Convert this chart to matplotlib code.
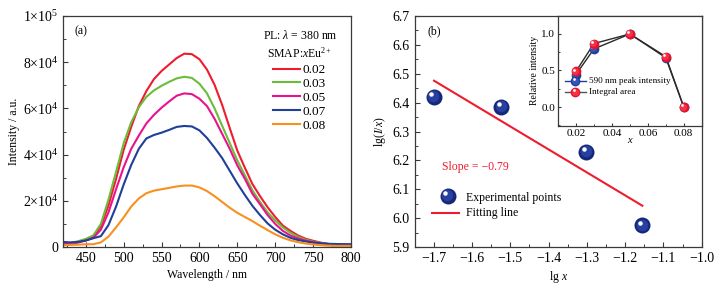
import numpy as np
import matplotlib
matplotlib.use("Agg")
import matplotlib.pyplot as plt
from matplotlib.ticker import MultipleLocator, FixedLocator
import matplotlib.transforms as mtransforms

plt.rcParams['font.family'] = ['Liberation Serif', 'DejaVu Serif']
plt.rcParams['mathtext.fontset'] = 'custom'
plt.rcParams['mathtext.rm'] = 'Liberation Serif'
plt.rcParams['mathtext.it'] = 'Liberation Serif:italic'
plt.rcParams['font.size'] = 8.5

# ---------------- data: panel (a) ----------------
wavelength = [420, 430, 440, 450, 460, 470, 480, 490, 500, 510, 520, 530, 540, 550,
              560, 570, 580, 590, 600, 610, 620, 630, 640, 650, 660, 670, 680, 690,
              700, 710, 720, 730, 740, 750, 760, 770, 780, 790, 800]
# intensities in units of 1e4
I_002 = [0.13, 0.15, 0.20, 0.30, 0.45, 0.90, 1.80, 2.95, 4.20, 5.20, 6.10, 6.75, 7.27, 7.62,
         7.90, 8.18, 8.37, 8.35, 8.13, 7.68, 7.02, 6.15, 5.15, 4.17, 3.43, 2.72, 2.20, 1.72,
         1.30, 0.93, 0.70, 0.50, 0.36, 0.27, 0.19, 0.13, 0.11, 0.10, 0.09]
I_003 = [0.15, 0.18, 0.25, 0.35, 0.50, 1.00, 2.05, 3.25, 4.49, 5.40, 6.05, 6.50, 6.78, 6.98,
         7.15, 7.30, 7.37, 7.32, 7.07, 6.65, 6.00, 5.25, 4.50, 3.75, 3.10, 2.45, 1.95, 1.50,
         1.15, 0.85, 0.62, 0.44, 0.32, 0.23, 0.17, 0.13, 0.11, 0.10, 0.09]
I_005 = [0.12, 0.14, 0.20, 0.28, 0.40, 0.75, 1.50, 2.50, 3.45, 4.25, 4.82, 5.35, 5.72, 6.03,
         6.30, 6.55, 6.65, 6.62, 6.42, 6.10, 5.55, 4.90, 4.25, 3.53, 2.95, 2.30, 1.85, 1.38,
         1.00, 0.70, 0.50, 0.37, 0.28, 0.21, 0.16, 0.13, 0.11, 0.10, 0.10]
I_007 = [0.22, 0.20, 0.22, 0.28, 0.38, 0.47, 0.95, 1.75, 2.70, 3.55, 4.25, 4.70, 4.85, 4.95,
         5.07, 5.20, 5.24, 5.22, 5.05, 4.72, 4.30, 3.85, 3.30, 2.75, 2.25, 1.78, 1.38, 1.02,
         0.75, 0.55, 0.40, 0.30, 0.24, 0.19, 0.16, 0.14, 0.13, 0.12, 0.12]
I_008 = [0.08, 0.09, 0.10, 0.12, 0.12, 0.20, 0.45, 0.85, 1.28, 1.75, 2.10, 2.33, 2.44, 2.50,
         2.56, 2.62, 2.66, 2.66, 2.58, 2.42, 2.20, 1.95, 1.70, 1.48, 1.30, 1.12, 0.92, 0.73,
         0.55, 0.40, 0.29, 0.21, 0.15, 0.11, 0.08, 0.06, 0.05, 0.05, 0.05]
conc_labels = ['0.02', '0.03', '0.05', '0.07', '0.08']
spec_colors = ['#ee1c2e', '#6abd3a', '#ea128c', '#1f3f99', '#f7901e']
a_yticks = [0, 2e4, 4e4, 6e4, 8e4, 1e5]
a_yticklabels = ['0', '2×10$^4$', '4×10$^4$', '6×10$^4$', '8×10$^4$', '1×10$^5$']

# ---------------- data: panel (b) ----------------
lgx = [-1.699, -1.523, -1.301, -1.155]
lg_Ix = [6.421, 6.386, 6.229, 5.975]
fit_x = [-1.699, -1.155]
fit_y = [6.476, 6.043]

inset_x = [0.02, 0.03, 0.05, 0.07, 0.08]
peak_rel = [0.445, 0.795, 1.0, 0.675, 0.0]
area_rel = [0.487, 0.869, 1.0, 0.69, 0.0]

fig = plt.figure(figsize=(7.2, 2.92), dpi=100)

spine_col = '#3a3a3a'
TICK_FS = 10

def style_axes(ax, fs=TICK_FS):
    for s in ax.spines.values():
        s.set_color(spine_col)
        s.set_linewidth(0.9)
    ax.tick_params(which='both', direction='in', color=spine_col, top=False, right=False)
    ax.tick_params(which='major', length=3.5, width=0.8, labelsize=fs)
    ax.tick_params(which='minor', length=2, width=0.7)

# ---------------- panel (a) ----------------
axa = fig.add_axes([0.0875, 0.1541, 0.4, 0.791])
series = [I_002, I_003, I_005, I_007, I_008]
handles = []
for vals, lab, col in zip(series, conc_labels, spec_colors):
    h, = axa.plot(wavelength, np.array(vals) * 1e4, color=col, lw=1.5, label=lab)
    handles.append(h)
axa.set_xlim(420, 800)
axa.set_ylim(0, 1e5)
axa.xaxis.set_major_locator(MultipleLocator(50))
axa.xaxis.set_minor_locator(MultipleLocator(25))
axa.yaxis.set_major_locator(FixedLocator(a_yticks))
axa.set_yticklabels(a_yticklabels)
axa.yaxis.set_minor_locator(MultipleLocator(1e4))
style_axes(axa)
axa.set_xlabel('Wavelength / nm', labelpad=3)
axa.set_ylabel('Intensity / a.u.', labelpad=2)
axa.text(0.04, 0.935, '(a)', transform=axa.transAxes, ha='left', va='center')
axa.text(0.955, 0.915, 'PL: $\\it{λ}$ = 380 nm', transform=axa.transAxes, ha='right', va='center')
axa.text(0.935, 0.84, 'SMAP:$\\it{x}$Eu$^{2+}$', transform=axa.transAxes, ha='right', va='center')
leg = axa.legend(handles=handles, loc='upper right', bbox_to_anchor=(0.93, 0.815),
                 frameon=False, handlelength=2.0, handletextpad=0.2, labelspacing=0.12,
                 borderaxespad=0.0, fontsize=9.5)

# ---------------- panel (b) ----------------
axb = fig.add_axes([0.5757, 0.1541, 0.3989, 0.791])

def sphere(ax, xs, ys, base, light, size, zorder=3, label=None):
    ax.plot(xs, ys, ls='none', marker='o', ms=size, mfc=base, mec=base, mew=0.0,
            zorder=zorder, label=label)
    ax.plot(xs, ys, ls='none', marker='o', ms=size * 0.72, mfc=light, mec='none',
            alpha=0.55, zorder=zorder + 0.1,
            transform=ax.transData + mtransforms.ScaledTranslation(-size * 0.05 / 72, size * 0.05 / 72,
                                                                   fig.dpi_scale_trans))
    ax.plot(xs, ys, ls='none', marker='o', ms=size * 0.28, mfc='white', mec='none',
            zorder=zorder + 0.2,
            transform=ax.transData + mtransforms.ScaledTranslation(-size * 0.16 / 72, size * 0.17 / 72,
                                                                   fig.dpi_scale_trans))

sphere(axb, lgx, lg_Ix, '#14277a', '#3a58c0', 11.5)
axb.plot(fit_x, fit_y, color='#ee1c2e', lw=1.5, zorder=2)
axb.set_xlim(-1.75, -1.0)
axb.set_ylim(5.9, 6.7)
axb.xaxis.set_major_locator(MultipleLocator(0.1))
axb.xaxis.set_minor_locator(MultipleLocator(0.05))
axb.yaxis.set_major_locator(MultipleLocator(0.1))
axb.yaxis.set_minor_locator(MultipleLocator(0.05))
axb.xaxis.set_major_formatter(matplotlib.ticker.FuncFormatter(
    lambda v, p: ('−%.1f' % abs(v)) if v < -1e-9 else '%.1f' % abs(v)))
style_axes(axb)
axb.set_xlabel('lg $\\it{x}$', labelpad=3)
axb.set_ylabel('lg($\\it{I/x}$)', labelpad=3)
axb.text(0.045, 0.935, '(b)', transform=axb.transAxes, ha='left', va='center')
axb.text(0.095, 0.345, 'Slope = −0.79', transform=axb.transAxes, ha='left', va='center',
         color='#ee1c2e')
# legend for panel b (manual, with sphere marker)
sphere(axb, [-1.663], [6.078], '#14277a', '#3a58c0', 11.5, zorder=5)
axb.text(0.18, 0.212, 'Experimental points', transform=axb.transAxes, ha='left', va='center')
axb.plot([0.06, 0.155], [0.147, 0.147], transform=axb.transAxes, color='#ee1c2e', lw=1.5)
axb.text(0.18, 0.147, 'Fitting line', transform=axb.transAxes, ha='left', va='center')

# ---------------- inset ----------------
axi = fig.add_axes([0.775, 0.5685, 0.1996, 0.3777])
axi.plot(inset_x, peak_rel, color='#2a2a2a', lw=1.0, zorder=2)
axi.plot(inset_x, area_rel, color='#2a2a2a', lw=1.0, zorder=2)
sphere(axi, inset_x, peak_rel, '#1f3f99', '#4a6ad0', 7)
sphere(axi, inset_x, area_rel, '#e8102a', '#ff5060', 7, zorder=4)
axi.set_xlim(0.01, 0.09)
axi.set_ylim(-0.26, 1.25)
axi.xaxis.set_major_locator(MultipleLocator(0.02))
axi.xaxis.set_minor_locator(MultipleLocator(0.01))
axi.yaxis.set_major_locator(MultipleLocator(0.5))
axi.yaxis.set_minor_locator(MultipleLocator(0.25))
axi.xaxis.set_major_formatter(matplotlib.ticker.FormatStrFormatter('%.2f'))
axi.yaxis.set_major_formatter(matplotlib.ticker.FormatStrFormatter('%.1f'))
style_axes(axi, fs=8)
axi.tick_params(pad=2)
axi.tick_params(which='major', length=2.5)
axi.tick_params(which='minor', length=1.5)
axi.set_xlabel('$\\it{x}$', fontsize=7.5, labelpad=-1)
axi.set_ylabel('Relative intensity', fontsize=7, labelpad=2)
# inset legend
axi.plot([0.014, 0.0255], [0.355, 0.355], color='#1f3f99', lw=1.0)
axi.plot([0.014, 0.0255], [0.205, 0.205], color='#555555', lw=1.0)
sphere(axi, [0.0197], [0.355], '#1f3f99', '#4a6ad0', 7, zorder=5)
sphere(axi, [0.0197], [0.205], '#e8102a', '#ff5060', 7, zorder=5)
axi.text(0.027, 0.355, '590 nm peak intensity', fontsize=6.6, ha='left', va='center')
axi.text(0.027, 0.205, 'Integral area', fontsize=6.6, ha='left', va='center')

fig.savefig('out.png', dpi=100)
